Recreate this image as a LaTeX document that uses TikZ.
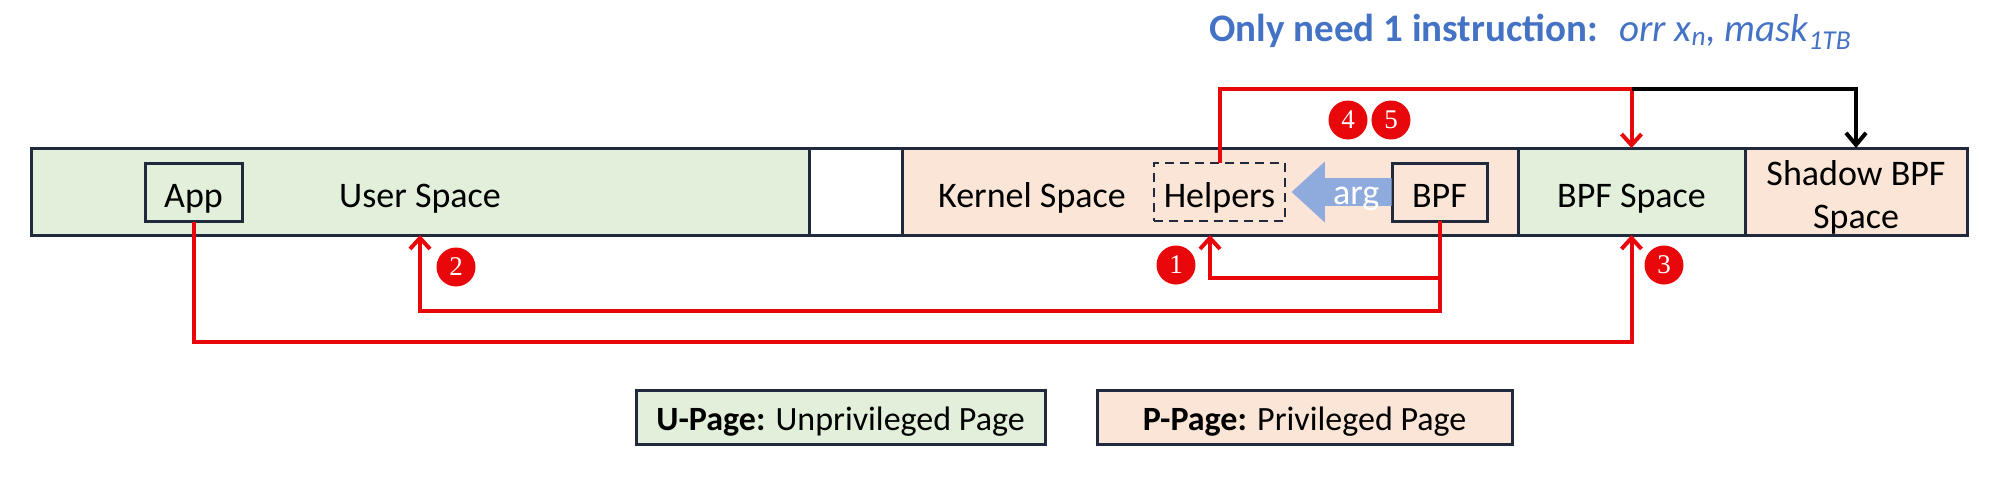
\documentclass[tikz,border=0pt]{standalone}
\usepackage{fontspec}
\setmainfont{Carlito}
\newfontfamily\numfont{Liberation Serif}
\usetikzlibrary{arrows.meta,shapes.arrows}
\definecolor{ugreen}{RGB}{226,239,218}
\definecolor{ppeach}{RGB}{251,229,214}
\definecolor{navy}{RGB}{32,42,60}
\definecolor{rred}{RGB}{232,8,12}
\definecolor{tblue}{RGB}{68,114,196}
\definecolor{argblue}{RGB}{143,170,220}

\tikzset{every picture/.style={line width=0.75pt}}

\begin{document}
\begin{tikzpicture}[x=1pt,y=1pt,yscale=-1,xscale=1,
  seg/.style={draw=navy, line width=3pt, inner sep=0pt, outer sep=0pt, minimum height=87pt, text height=31pt, text depth=0pt, font=\fontsize{36}{43}\selectfont, align=center},
  inbox/.style={draw=navy, line width=3pt, inner sep=0pt, outer sep=0pt, minimum height=58pt, text height=30pt, text depth=0pt, font=\fontsize{36}{43}\selectfont},
  numdot/.style={circle, fill=rred, text=white, inner sep=0pt, minimum size=39pt, font=\numfont\fontsize{27}{27}\selectfont},
  redline/.style={draw=rred, line width=4pt, -{Straight Barb[length=11pt,width=20pt]}},
  blkline/.style={draw=black, line width=4pt, -{Straight Barb[length=12pt,width=20pt]}},
  legend/.style={draw=navy, line width=3pt, inner sep=0pt, minimum height=54pt, text height=26pt, text depth=0pt, font=\fontsize{34}{40}\selectfont}]
\useasboundingbox (0,0) rectangle (1994,491);

% Title
\node [anchor=base west, inner sep=0pt, text=tblue, font=\fontsize{39}{46}\selectfont] (title) at (1209,41)
  {\textbf{Only need 1 instruction:}\hspace{0.55em}\textit{orr x\textsubscript{n}, mask\textsubscript{1TB}}};

% Address space bar
\node [seg, fill=ugreen, minimum width=778pt] (user) at (420,191.5) {User Space};
\node [seg, fill=white, minimum width=93pt] (gap) at (855.5,191.5) {};
\node [seg, fill=ppeach, minimum width=616pt] (kern) at (1210,191.5) {};
\node [seg, fill=ugreen, minimum width=227pt] (bpfsp) at (1631.5,191.5) {BPF Space};
\node [seg, fill=ppeach, minimum width=222pt, text height=74pt] (shadow) at (1856,191.5) {Shadow BPF\\Space};
\node [anchor=base, inner sep=0pt, font=\fontsize{36}{43}\selectfont] (kernlbl) at (1032,207) {Kernel Space};

% Boxes inside
\node [inbox, minimum width=97pt] (app) at (193.5,192.5) {App};
\node [inbox, dashed, dash pattern=on 9pt off 6pt, line width=2.5pt, minimum width=131pt] (helpers) at (1219.5,192) {Helpers};
\node [inbox, minimum width=95pt] (bpf) at (1439.5,192) {BPF};
\node [single arrow, shape border rotate=180, fill=argblue, text=white, anchor=tail,
  minimum height=100pt, minimum width=61pt, single arrow head extend=15pt, single arrow tip angle=85,
  inner sep=0pt, text height=24pt, text depth=0pt, font=\fontsize{36}{43}\selectfont] (arg) at (bpf.west) {\hspace{14pt}arg};

% Connectors
\coordinate (loopj) at (bpfsp.north |- 0,89);
\draw [redline] (helpers.north) |- (loopj) -- (bpfsp.north);
\draw [blkline] (loopj) -| (shadow.north);
\draw [redline] (bpf.south) -- ++(0,57) -| (kern.south);
\draw [redline] (bpf.south) -- ++(0,90) -| (user.south);
\draw [redline] (app.south) -- ++(0,120) -| (bpfsp.south);

% Step numbers
\node [numdot] (n1) at (1176,265) {1};
\node [numdot] (n2) at (456,267) {2};
\node [numdot] (n3) at (1664,265) {3};
\node [numdot] (n4) at (1348,120) {4};
\node [numdot] (n5) at (1391,120) {5};

% Legend
\node [legend, fill=ugreen, minimum width=409pt] (upage) at (840.5,417) {\textbf{U-Page:} Unprivileged Page};
\node [legend, fill=ppeach, minimum width=415pt] (ppage) at (1304.5,417) {\textbf{P-Page:} Privileged Page};
\end{tikzpicture}
\end{document}
